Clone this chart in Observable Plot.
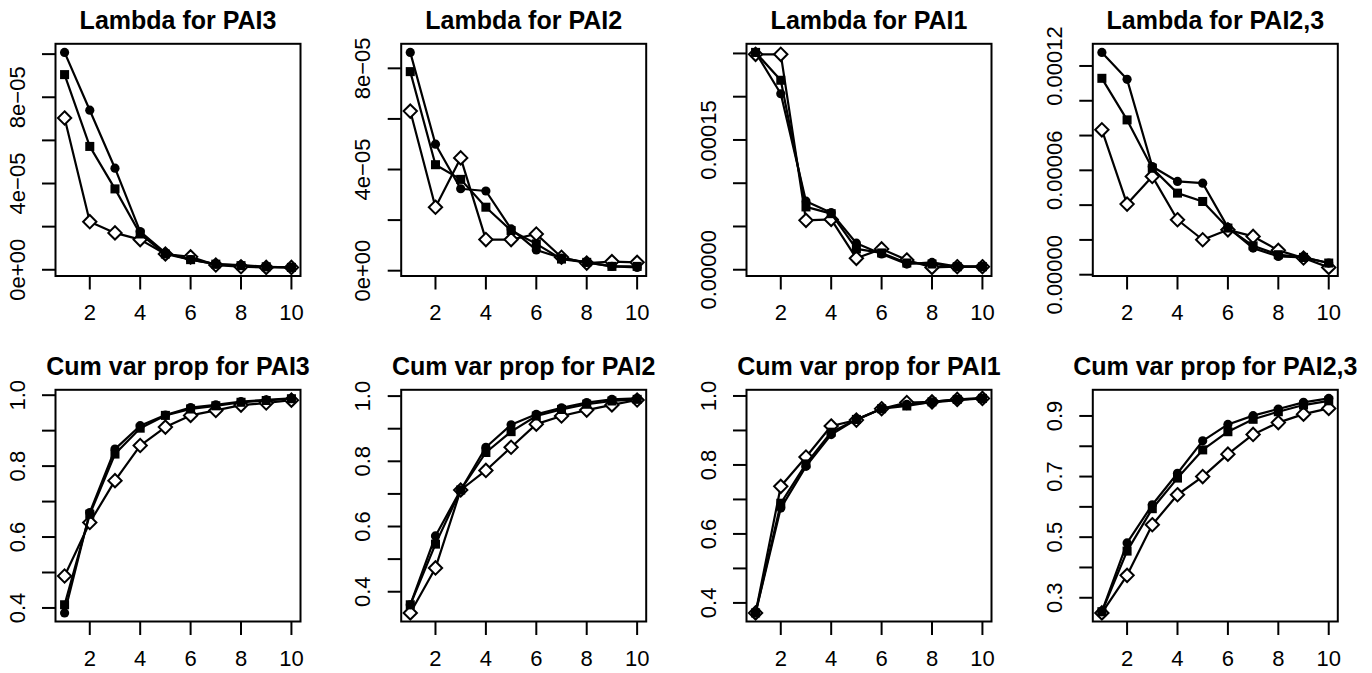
<!DOCTYPE html>
<html><head><meta charset="utf-8">
<script src="https://cdn.jsdelivr.net/npm/d3@7"></script>
<script src="https://cdn.jsdelivr.net/npm/@observablehq/plot@0.6"></script>
<style>
body{margin:0;background:#fff;}
#wrap{position:relative;width:1372px;height:673px;overflow:hidden;background:#fff;}
.panel{position:absolute;}
.panel svg{overflow:visible;}
</style></head><body><div id="wrap"></div>
<script>
// Component index (x)
const comps = [1, 2, 3, 4, 5, 6, 7, 8, 9, 10];
const xTicks = [2, 4, 6, 8, 10];

// Titles
const titles = ["Lambda for PAI3", "Lambda for PAI2", "Lambda for PAI1", "Lambda for PAI2,3",
  "Cum var prop for PAI3", "Cum var prop for PAI2", "Cum var prop for PAI1", "Cum var prop for PAI2,3"];

// Lambda for PAI3
const lamPAI3Circle  = [10.08e-5, 7.40e-5, 4.71e-5, 1.77e-5, 0.78e-5, 0.47e-5, 0.26e-5, 0.22e-5, 0.14e-5, 0.11e-5];
const lamPAI3Square  = [9.05e-5, 5.72e-5, 3.75e-5, 1.66e-5, 0.73e-5, 0.47e-5, 0.26e-5, 0.19e-5, 0.14e-5, 0.11e-5];
const lamPAI3Diamond = [7.04e-5, 2.23e-5, 1.71e-5, 1.40e-5, 0.73e-5, 0.60e-5, 0.22e-5, 0.14e-5, 0.11e-5, 0.11e-5];
// Lambda for PAI2
const lamPAI2Circle  = [8.63e-5, 5.00e-5, 3.24e-5, 3.15e-5, 1.65e-5, 0.82e-5, 0.50e-5, 0.33e-5, 0.17e-5, 0.13e-5];
const lamPAI2Square  = [7.87e-5, 4.19e-5, 3.61e-5, 2.51e-5, 1.59e-5, 1.06e-5, 0.46e-5, 0.33e-5, 0.17e-5, 0.17e-5];
const lamPAI2Diamond = [6.31e-5, 2.51e-5, 4.46e-5, 1.23e-5, 1.23e-5, 1.45e-5, 0.53e-5, 0.30e-5, 0.36e-5, 0.33e-5];
// Lambda for PAI1
const lamPAI1Circle  = [25.12e-5, 20.34e-5, 7.92e-5, 6.60e-5, 3.07e-5, 1.82e-5, 0.66e-5, 0.85e-5, 0.35e-5, 0.35e-5];
const lamPAI1Square  = [25.12e-5, 21.90e-5, 7.26e-5, 6.48e-5, 2.41e-5, 1.94e-5, 0.78e-5, 0.66e-5, 0.35e-5, 0.35e-5];
const lamPAI1Diamond = [24.90e-5, 24.90e-5, 5.71e-5, 5.82e-5, 1.32e-5, 2.41e-5, 1.13e-5, 0.27e-5, 0.35e-5, 0.35e-5];
// Lambda for PAI2,3
const lamPAI23Circle  = [12.78e-5, 11.23e-5, 6.22e-5, 5.36e-5, 5.26e-5, 2.72e-5, 1.53e-5, 1.05e-5, 0.995e-5, 0.67e-5];
const lamPAI23Square  = [11.29e-5, 8.90e-5, 6.12e-5, 4.69e-5, 4.21e-5, 2.68e-5, 1.66e-5, 1.15e-5, 0.995e-5, 0.67e-5];
const lamPAI23Diamond = [8.33e-5, 4.06e-5, 5.65e-5, 3.16e-5, 2.01e-5, 2.58e-5, 2.20e-5, 1.40e-5, 0.96e-5, 0.42e-5];
// Cum var prop for PAI3
const cumPAI3Circle  = [0.386, 0.669, 0.848, 0.914, 0.944, 0.965, 0.973, 0.982, 0.987, 0.991];
const cumPAI3Square  = [0.409, 0.664, 0.834, 0.907, 0.943, 0.961, 0.970, 0.980, 0.985, 0.990];
const cumPAI3Diamond = [0.490, 0.641, 0.759, 0.858, 0.910, 0.943, 0.957, 0.972, 0.978, 0.986];
// Cum var prop for PAI2
const cumPAI2Circle  = [0.360, 0.571, 0.712, 0.843, 0.912, 0.944, 0.964, 0.980, 0.990, 0.993];
const cumPAI2Square  = [0.360, 0.546, 0.712, 0.827, 0.891, 0.939, 0.959, 0.975, 0.985, 0.990];
const cumPAI2Diamond = [0.335, 0.473, 0.712, 0.772, 0.843, 0.914, 0.939, 0.957, 0.973, 0.988];
// Cum var prop for PAI1
const cumPAI1Circle  = [0.371, 0.675, 0.796, 0.888, 0.932, 0.963, 0.976, 0.981, 0.988, 0.993];
const cumPAI1Square  = [0.371, 0.689, 0.803, 0.895, 0.932, 0.963, 0.971, 0.983, 0.990, 0.993];
const cumPAI1Diamond = [0.371, 0.738, 0.823, 0.913, 0.930, 0.963, 0.981, 0.983, 0.990, 0.993];
// Cum var prop for PAI2,3
const cumPAI23Circle  = [0.254, 0.481, 0.607, 0.711, 0.818, 0.872, 0.901, 0.923, 0.945, 0.958];
const cumPAI23Square  = [0.254, 0.454, 0.594, 0.695, 0.788, 0.848, 0.889, 0.914, 0.936, 0.950];
const cumPAI23Diamond = [0.250, 0.374, 0.541, 0.640, 0.700, 0.774, 0.839, 0.878, 0.906, 0.925];

// Y ticks and tick labels
const yTicksLam3  = [0, 2e-5, 4e-5, 6e-5, 8e-5, 10e-5];
const yTicksLam2  = [0, 2e-5, 4e-5, 6e-5, 8e-5];
const yTicksLam1  = [0, 5e-5, 10e-5, 15e-5, 20e-5, 25e-5];
const yTicksLam23 = [0, 2e-5, 4e-5, 6e-5, 8e-5, 10e-5, 12e-5];
const yTicksCum   = [0.4, 0.5, 0.6, 0.7, 0.8, 0.9, 1.0];
const yTicksCum23 = [0.3, 0.4, 0.5, 0.6, 0.7, 0.8, 0.9];
const yLabValsLamE  = [0, 4e-5, 8e-5];
const yLabTextLamE  = ["0e+00", "4e\u221205", "8e\u221205"];
const yLabValsLam1  = [0, 15e-5];
const yLabTextLam1  = ["0.00000", "0.00015"];
const yLabValsLam23 = [0, 6e-5, 12e-5];
const yLabTextLam23 = ["0.00000", "0.00006", "0.00012"];
const yLabValsCum   = [0.4, 0.6, 0.8, 1.0];
const yLabTextCum   = ["0.4", "0.6", "0.8", "1.0"];
const yLabValsCum23 = [0.3, 0.5, 0.7, 0.9];
const yLabTextCum23 = ["0.3", "0.5", "0.7", "0.9"];

const panels = [
  {t: titles[0], c: lamPAI3Circle, s: lamPAI3Square, d: lamPAI3Diamond, yt: yTicksLam3, lv: yLabValsLamE, lt: yLabTextLamE},
  {t: titles[1], c: lamPAI2Circle, s: lamPAI2Square, d: lamPAI2Diamond, yt: yTicksLam2, lv: yLabValsLamE, lt: yLabTextLamE},
  {t: titles[2], c: lamPAI1Circle, s: lamPAI1Square, d: lamPAI1Diamond, yt: yTicksLam1, lv: yLabValsLam1, lt: yLabTextLam1},
  {t: titles[3], c: lamPAI23Circle, s: lamPAI23Square, d: lamPAI23Diamond, yt: yTicksLam23, lv: yLabValsLam23, lt: yLabTextLam23},
  {t: titles[4], c: cumPAI3Circle, s: cumPAI3Square, d: cumPAI3Diamond, yt: yTicksCum, lv: yLabValsCum, lt: yLabTextCum},
  {t: titles[5], c: cumPAI2Circle, s: cumPAI2Square, d: cumPAI2Diamond, yt: yTicksCum, lv: yLabValsCum, lt: yLabTextCum},
  {t: titles[6], c: cumPAI1Circle, s: cumPAI1Square, d: cumPAI1Diamond, yt: yTicksCum, lv: yLabValsCum, lt: yLabTextCum},
  {t: titles[7], c: cumPAI23Circle, s: cumPAI23Square, d: cumPAI23Diamond, yt: yTicksCum23, lv: yLabValsCum23, lt: yLabTextCum23}
];

const FONT = "'Liberation Sans', Arial, Helvetica, sans-serif";
const colLeft = [55, 57.7, 60, 63.3];
const wrap = document.getElementById("wrap");

panels.forEach((p, k) => {
  const col = k % 4, row = Math.floor(k / 4);
  const W = 343;
  const H = row === 0 ? 336 : 337;
  const mTop = row === 0 ? 43.3 : 53.3;
  const mBottom = row === 0 ? 60.5 : 52;
  const mLeft = colLeft[col];
  const mRight = W - mLeft - 245;
  const all = [...p.c, ...p.s, ...p.d];
  const [lo, hi] = d3.extent(all);
  const pad = (hi - lo) * 0.04;
  const marks = [Plot.frame({stroke: "black", strokeWidth: 2})];
  const series = [
    {vals: p.d, symbol: "diamond2", fill: "white", stroke: "black", r: 6},
    {vals: p.s, symbol: "square", fill: "black", stroke: "none", r: 5.1},
    {vals: p.c, symbol: "circle", fill: "black", stroke: "none", r: 4.6}
  ];
  for (const se of series) {
    const data = comps.map((x, i) => ({x, y: se.vals[i]}));
    marks.push(Plot.line(data, {x: "x", y: "y", stroke: "black", strokeWidth: 2.2}));
    marks.push(Plot.dot(data, {x: "x", y: "y", symbol: se.symbol, r: se.r, fill: se.fill, stroke: se.stroke, strokeWidth: 2}));
  }
  marks.push(Plot.axisX({ticks: xTicks, tickSize: 14, tickFormat: () => "", label: null, strokeWidth: 2, stroke: "black"}));
  marks.push(Plot.axisY({ticks: p.yt, tickSize: 13, tickFormat: () => "", label: null, strokeWidth: 2, stroke: "black"}));
  marks.push(Plot.text(xTicks, {x: (d) => d, text: (d) => String(d), frameAnchor: "bottom", dy: 37, lineAnchor: "middle", fontSize: 22, fill: "black"}));
  const labs = p.lv.map((v, i) => ({v, t: p.lt[i]}));
  marks.push(Plot.text(labs, {y: "v", text: "t", frameAnchor: "left", dx: -38, rotate: -90, textAnchor: "middle", lineAnchor: "middle", fontSize: 22, fill: "black"}));
  marks.push(Plot.text([p.t], {text: (d) => d, frameAnchor: "top", dy: -15, lineAnchor: "bottom", fontSize: 25, fontWeight: "bold", fill: "black"}));

  const chart = Plot.plot({
    width: W, height: H,
    marginLeft: mLeft, marginRight: mRight, marginTop: mTop, marginBottom: mBottom,
    x: {domain: [0.64, 10.36], label: null},
    y: {domain: [lo - pad, hi + pad], label: null},
    style: {fontFamily: FONT, background: "white", overflow: "visible"},
    marks
  });
  const div = document.createElement("div");
  div.className = "panel";
  div.style.left = (col * 343) + "px";
  div.style.top = (row * 336) + "px";
  div.appendChild(chart);
  wrap.appendChild(div);
});
</script>
</body></html>
